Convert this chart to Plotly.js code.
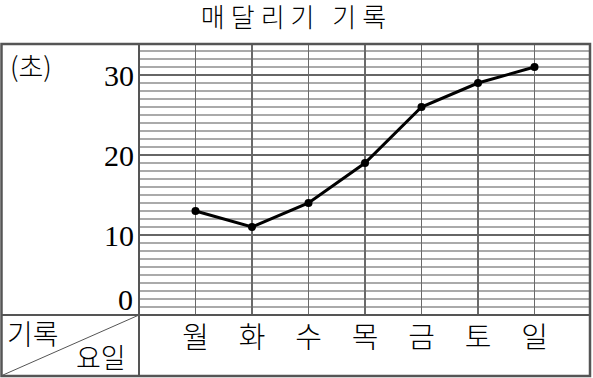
<!DOCTYPE html>
<html><head><meta charset="utf-8">
<script src="https://cdn.plot.ly/plotly-3.0.1.min.js"></script>
<style>html,body{margin:0;padding:0;background:#fff}#chart{width:593px;height:378px}
.gtitle{letter-spacing:6px}</style>
</head><body><div id="chart"></div>
<script>
const chartTitle = "매달리기 기록";
const days = ["월","화","수","목","금","토","일"];
const seconds = [13, 11, 14, 19, 26, 29, 31];
const yTickVals = [10, 20, 30];
const yTickText = ["10", "20", "30"];
const zeroLabel = "0";
const unitLabel = "(초)";
const cornerTop = "기록";
const cornerBottom = "요일";
const yMax = 34;

const L = 139, R = 591, T = 43, B = 315;
const px = p => (p - L) / (R - L);
const py = p => (B - p) / (B - T);
const KR = "Noto Sans CJK KR";
const SERIF = "Liberation Serif";
const border = "#555";

const trace = {
  x: days, y: seconds, type: "scatter", mode: "lines+markers",
  line: {color: "#000", width: 3},
  marker: {color: "#000", size: 8},
  hoverinfo: "skip", showlegend: false, cliponaxis: false
};

const layout = {
  width: 593, height: 378,
  margin: {l: L, r: 593 - R, t: T, b: 378 - B, pad: 0},
  paper_bgcolor: "#fff", plot_bgcolor: "#fff",
  title: {text: chartTitle, font: {family: KR, size: 26, color: "#000", weight: 300},
          xref: "container", x: 0.5, xanchor: "center",
          yref: "container", y: 1 - 18 / 378, yanchor: "middle"},
  xaxis: {type: "category", range: [-1, days.length], showgrid: true,
          gridcolor: "#6a6a6a", gridwidth: 1.3, zeroline: false, showline: false,
          ticks: "", tickfont: {family: KR, size: 29, color: "#000", weight: 300},
          ticklabelstandoff: 3, fixedrange: true},
  yaxis: {range: [0, yMax], tickvals: yTickVals, ticktext: yTickText,
          showgrid: true, gridcolor: "#666", gridwidth: 1.5,
          zeroline: false, showline: false, ticks: "",
          tickfont: {family: SERIF, size: 30, color: "#000"},
          ticklabelstandoff: 4,
          minor: {dtick: 1, tick0: 0, showgrid: true, gridcolor: "#aaaaaa", gridwidth: 1.2, ticks: ""},
          fixedrange: true},
  shapes: [
    {type: "rect", xref: "paper", yref: "paper", x0: px(1.5), x1: px(590), y0: py(376), y1: py(44),
     line: {color: border, width: 2.5}},
    {type: "line", xref: "paper", yref: "paper", x0: 0, x1: 0, y0: py(376), y1: py(44),
     line: {color: border, width: 2}},
    {type: "line", xref: "paper", yref: "paper", x0: px(1.5), x1: px(590), y0: 0, y1: 0,
     line: {color: border, width: 2}},
    {type: "line", xref: "paper", yref: "paper", x0: px(3), x1: px(139), y0: py(375), y1: py(315),
     line: {color: border, width: 1}}
  ],
  annotations: [
    {text: unitLabel, xref: "paper", yref: "paper", x: px(31), y: py(65), xanchor: "center", yanchor: "middle",
     showarrow: false, font: {family: KR, size: 27, color: "#000", weight: 300}},
    {text: zeroLabel, xref: "paper", yref: "y", x: 0, y: 0, xanchor: "right", yanchor: "middle",
     xshift: -4, yshift: 16, showarrow: false, font: {family: SERIF, size: 30, color: "#000"}},
    {text: cornerTop, xref: "paper", yref: "paper", x: px(33), y: py(333), xanchor: "center", yanchor: "middle",
     showarrow: false, font: {family: KR, size: 28, color: "#000", weight: 300}},
    {text: cornerBottom, xref: "paper", yref: "paper", x: px(101), y: py(356), xanchor: "center", yanchor: "middle",
     showarrow: false, font: {family: KR, size: 27, color: "#000", weight: 300}}
  ]
};

Plotly.newPlot("chart", [trace], layout, {staticPlot: true, displayModeBar: false});
</script></body></html>
